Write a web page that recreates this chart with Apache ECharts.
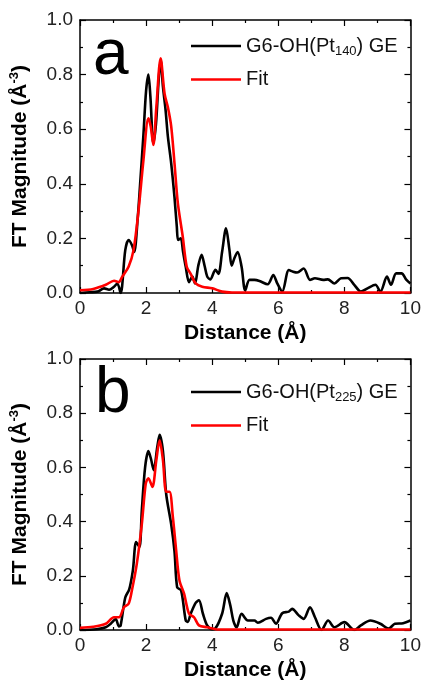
<!DOCTYPE html>
<html>
<head>
<meta charset="utf-8">
<script src="https://cdn.jsdelivr.net/npm/echarts@6/dist/echarts.min.js"></script>
<style>
  html, body { margin: 0; padding: 0; background: #fff; }
  #chart { width: 424px; height: 682px; }
</style>
</head>
<body>
<div id="chart"></div>
<script>
// panel a: G6-OH(Pt140) GE
const distA = [0, 0.3, 0.53, 0.73, 0.88, 1.03, 1.13, 1.23, 1.37, 1.47, 1.57, 1.64, 1.75, 1.82, 1.92, 2.0, 2.07, 2.13, 2.22, 2.3, 2.38, 2.44, 2.51, 2.59, 2.66, 2.76, 2.86, 2.93, 2.97, 3.05, 3.12, 3.2, 3.3, 3.4, 3.48, 3.58, 3.68, 3.77, 3.85, 3.94, 4.1, 4.19, 4.3, 4.42, 4.52, 4.59, 4.68, 4.77, 4.89, 5.0, 5.13, 5.28, 5.43, 5.68, 5.85, 5.97, 6.12, 6.32, 6.45, 6.57, 6.77, 6.96, 7.11, 7.36, 7.5, 7.7, 7.9, 8.1, 8.3, 8.5, 8.7, 8.94, 9.09, 9.29, 9.41, 9.57, 9.73, 9.88, 10];
const magA = [0, 0.003, 0.005, 0.017, 0.012, 0.023, 0.035, 0.0, 0.157, 0.194, 0.176, 0.15, 0.28, 0.40, 0.58, 0.74, 0.80, 0.72, 0.548, 0.62, 0.78, 0.853, 0.756, 0.67, 0.573, 0.475, 0.35, 0.243, 0.194, 0.20, 0.15, 0.096, 0.04, 0.06, 0.035, 0.10, 0.14, 0.10, 0.06, 0.05, 0.085, 0.07, 0.15, 0.237, 0.16, 0.10, 0.13, 0.15, 0.096, 0.01, 0.048, 0.048, 0.044, 0.032, 0.066, 0.035, 0.005, 0.084, 0.078, 0.075, 0.09, 0.048, 0.054, 0.048, 0.05, 0.035, 0.054, 0.055, 0.03, 0.005, 0.017, 0.03, 0.005, 0.06, 0.03, 0.072, 0.072, 0.048, 0.035];
const distFitA = [0, 0.4, 0.78, 1.03, 1.17, 1.28, 1.47, 1.62, 1.77, 1.92, 2.07, 2.14, 2.22, 2.31, 2.44, 2.56, 2.66, 2.76, 2.86, 2.96, 3.11, 3.23, 3.35, 3.5, 3.7, 4.0, 4.3, 4.6, 10];
const fitA = [0.01, 0.015, 0.03, 0.045, 0.04, 0.06, 0.096, 0.157, 0.30, 0.487, 0.64, 0.61, 0.542, 0.68, 0.86, 0.73, 0.68, 0.61, 0.475, 0.33, 0.206, 0.096, 0.07, 0.035, 0.023, 0.017, 0.005, 0.002, 0.002];

// panel b: G6-OH(Pt225) GE
const distB = [0, 0.5, 0.78, 0.93, 1.08, 1.18, 1.23, 1.37, 1.49, 1.6, 1.7, 1.8, 1.87, 1.97, 2.07, 2.15, 2.23, 2.34, 2.41, 2.51, 2.61, 2.76, 2.86, 2.94, 3.06, 3.2, 3.26, 3.35, 3.5, 3.6, 3.72, 3.85, 4.0, 4.09, 4.3, 4.44, 4.55, 4.64, 4.74, 4.89, 5.08, 5.28, 5.38, 5.63, 5.78, 5.93, 6.12, 6.32, 6.42, 6.62, 6.77, 6.96, 7.11, 7.31, 7.51, 7.7, 8.0, 8.3, 8.5, 8.79, 9.09, 9.34, 9.53, 9.78, 10];
const magB = [0, 0.003, 0.01, 0.023, 0.04, 0.013, 0.017, 0.12, 0.15, 0.22, 0.325, 0.306, 0.44, 0.60, 0.66, 0.63, 0.59, 0.676, 0.72, 0.66, 0.50, 0.39, 0.29, 0.158, 0.146, 0.035, 0.03, 0.06, 0.10, 0.11, 0.06, 0.017, 0.003, 0.005, 0.06, 0.136, 0.09, 0.035, 0.01, 0.06, 0.035, 0.035, 0.027, 0.041, 0.045, 0.023, 0.062, 0.068, 0.078, 0.054, 0.041, 0.084, 0.047, 0.0, 0.035, 0.01, 0.029, 0.0, 0.017, 0.035, 0.023, 0.005, 0.023, 0.025, 0.035];
const distFitB = [0, 0.4, 0.78, 1.03, 1.18, 1.33, 1.47, 1.57, 1.72, 1.87, 1.99, 2.07, 2.19, 2.31, 2.41, 2.51, 2.61, 2.71, 2.81, 2.91, 3.01, 3.15, 3.3, 3.45, 3.6, 3.85, 4.15, 10];
const fitB = [0.008, 0.012, 0.023, 0.047, 0.047, 0.084, 0.097, 0.146, 0.245, 0.39, 0.54, 0.56, 0.528, 0.627, 0.70, 0.627, 0.51, 0.51, 0.417, 0.294, 0.183, 0.134, 0.06, 0.047, 0.017, 0.01, 0.002, 0.002];

const xTicks = [0, 2, 4, 6, 8, 10];
const yTicks = [0.0, 0.2, 0.4, 0.6, 0.8, 1.0];

const zip = (xs, ys) => xs.map((x, i) => [x, ys[i]]);
const FONT = "'Liberation Sans', Arial, sans-serif";

const chart = echarts.init(document.getElementById("chart"));

const grids = [
  { left: 77, right: 10, top: 20, height: 273 },
  { left: 77, right: 10, top: 359, height: 271 },
];

const axisLine = { show: true, onZero: false, lineStyle: { color: "#000", width: 1.5 } };
const tick = { show: true, inside: true, length: 6, lineStyle: { color: "#000", width: 1.2 } };
const minor = { show: true, splitNumber: 2, length: 3, lineStyle: { color: "#000", width: 1.2 } };

const xAxes = [];
const yAxes = [];
grids.forEach((g, i) => {
  xAxes.push({
    type: "value", gridIndex: i, min: xTicks[0], max: xTicks[xTicks.length - 1], interval: 2,
    axisLine, axisTick: tick, minorTick: minor, splitLine: { show: false },
    axisLabel: { fontFamily: FONT, fontSize: 19, color: "#222", margin: 6 },
    name: "Distance (Å)", nameLocation: "middle", nameGap: 30,
    nameTextStyle: { fontFamily: FONT, fontSize: 21, fontWeight: "bold", color: "#000" },
  });
  xAxes.push({
    type: "value", gridIndex: i, position: "top", min: 0, max: 10, interval: 2,
    axisLine, axisTick: tick, minorTick: minor, splitLine: { show: false }, axisLabel: { show: false },
  });
  yAxes.push({
    type: "value", gridIndex: i, min: yTicks[0], max: yTicks[yTicks.length - 1], interval: 0.2,
    axisLine, axisTick: tick, minorTick: minor, splitLine: { show: false },
    axisLabel: { fontFamily: FONT, fontSize: 19, color: "#222", margin: 7, formatter: (v) => v.toFixed(1) },
    name: "{t|FT Magnitude (Å}{s|-3}{t|)}", nameLocation: "middle", nameRotate: 90, nameGap: 47,
    nameTextStyle: {
      rich: {
        t: { fontFamily: FONT, fontSize: 21, fontWeight: "bold", color: "#000" },
        s: { fontFamily: FONT, fontSize: 13, fontWeight: "bold", color: "#000", padding: [0, 0, 12, 0] },
      },
    },
  });
  yAxes.push({
    type: "value", gridIndex: i, position: "right", min: 0, max: 1, interval: 0.2,
    axisLine, axisTick: tick, minorTick: minor, splitLine: { show: false }, axisLabel: { show: false },
  });
});

const lineSeries = (name, data, color, idx) => ({
  name, type: "line", data, xAxisIndex: idx * 2, yAxisIndex: idx * 2,
  showSymbol: false, symbol: "none", smooth: 0.3,
  lineStyle: { color, width: 2.6 }, itemStyle: { color }, z: color === "#ff0000" ? 3 : 2,
});

const legendStyle = (top, names) => ({
  data: names, orient: "vertical", left: 186, top, itemWidth: 50, itemHeight: 14, itemGap: 12,
  icon: "path://M0,6 L50,6 L50,8.5 L0,8.5 Z",
  textStyle: {
    fontFamily: FONT, fontSize: 20, color: "#111",
    rich: { s: { fontFamily: FONT, fontSize: 13, color: "#111", padding: [10, 0, 0, 0] } },
  },
  formatter: (n) => n.replace(/Pt(\d+)\)/, "Pt{s|$1})"),
});

chart.setOption({
  animation: false,
  backgroundColor: "#fff",
  grid: grids,
  xAxis: xAxes,
  yAxis: yAxes,
  legend: [
    legendStyle(31, ["G6-OH(Pt140) GE", "Fit"]),
    legendStyle(377, ["G6-OH(Pt225) GE", "Fit "]),
  ],
  graphic: [
    { type: "text", left: 93, top: 24, style: { text: "a", fontFamily: FONT, fontSize: 64, fill: "#000" } },
    { type: "text", left: 95, top: 362, style: { text: "b", fontFamily: FONT, fontSize: 64, fill: "#000" } },
  ],
  series: [
    lineSeries("G6-OH(Pt140) GE", zip(distA, magA), "#000000", 0),
    lineSeries("Fit", zip(distFitA, fitA), "#ff0000", 0),
    lineSeries("G6-OH(Pt225) GE", zip(distB, magB), "#000000", 1),
    lineSeries("Fit ", zip(distFitB, fitB), "#ff0000", 1),
  ],
});
</script>
</body>
</html>
